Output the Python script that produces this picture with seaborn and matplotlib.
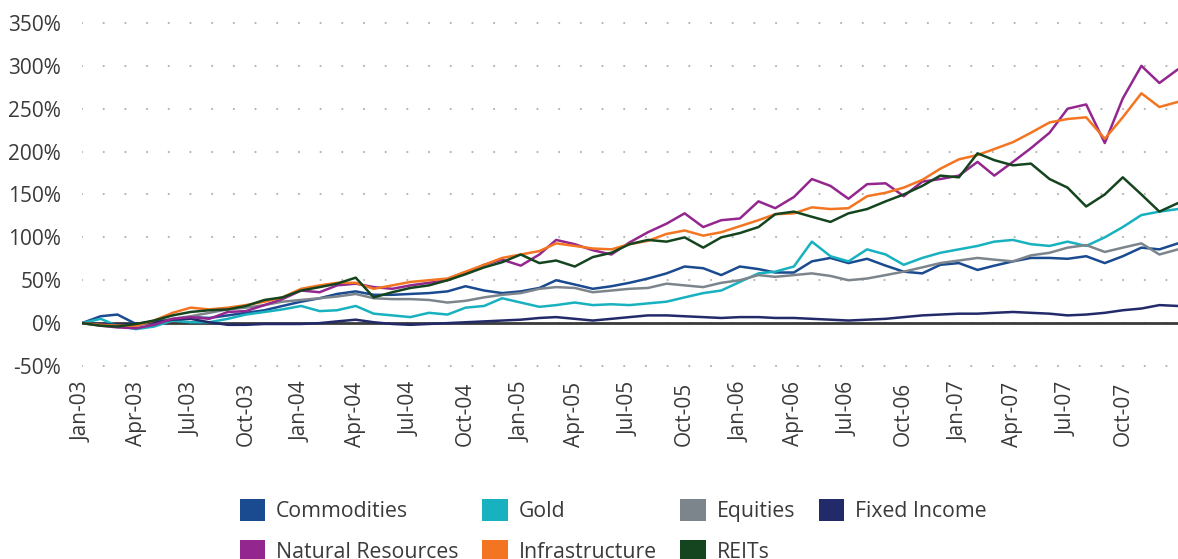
import pandas as pd
import matplotlib
matplotlib.use("Agg")
import matplotlib.pyplot as plt
import matplotlib.dates as mdates
from matplotlib.patches import Patch
from matplotlib.ticker import FuncFormatter
import seaborn as sns

# monthly readings, Jan-03 .. Jan-08 (cumulative return, %)
months = pd.date_range("2003-01-01", "2008-01-01", freq="MS")
tick_dates = pd.date_range("2003-01-01", "2007-10-01", freq="QS")

commodities = [0, 8, 10, -1, 2, 4, 7, 6, 9, 12, 15, 20, 25, 29, 34, 37, 33, 33, 34, 35,
               37, 43, 38, 35, 37, 41, 50, 45, 40, 43, 47, 52, 58, 66, 64, 56, 66, 63, 59, 59,
               72, 76, 70, 75, 67, 60, 58, 68, 70, 62, 67, 72, 76, 76, 75, 78, 70, 78, 88, 86, 93]
gold = [0, 5, -3, -7, -4, 3, 1, 1, 5, 10, 13, 16, 20, 14, 15, 20, 11, 9, 7, 12,
        10, 18, 20, 29, 24, 19, 21, 24, 21, 22, 21, 23, 25, 30, 35, 38, 48, 58, 60, 66,
        95, 78, 72, 86, 80, 68, 76, 82, 86, 90, 95, 97, 92, 90, 95, 90, 100, 112, 126, 130, 133]
equities = [0, -2, -4, -3, 1, 5, 8, 12, 16, 18, 21, 25, 27, 29, 31, 34, 29, 28, 28, 27,
            24, 26, 30, 33, 35, 40, 42, 41, 36, 38, 40, 41, 46, 44, 42, 47, 50, 56, 54, 56,
            58, 55, 50, 52, 56, 60, 65, 70, 73, 76, 74, 72, 79, 82, 88, 91, 83, 88, 93, 80, 86]
fixed_income = [0, -1, -2, -1, 1, 4, 5, 1, -2, -2, -1, -1, -1, 0, 2, 4, 1, -1, -2, -1,
                0, 1, 2, 3, 4, 6, 7, 5, 3, 5, 7, 9, 9, 8, 7, 6, 7, 7, 6, 6,
                5, 4, 3, 4, 5, 7, 9, 10, 11, 11, 12, 13, 12, 11, 9, 10, 12, 15, 17, 21, 20]
natural_resources = [0, -3, -5, -6, -2, 5, 7, 5, 13, 14, 21, 28, 38, 36, 44, 46, 42, 40, 44, 47,
                     50, 58, 68, 74, 67, 80, 97, 92, 85, 80, 94, 106, 116, 128, 112, 120, 122, 142, 134, 147,
                     168, 160, 145, 162, 163, 148, 165, 168, 172, 188, 172, 188, 204, 222, 250, 255, 210, 262, 300, 280, 296]
infrastructure = [0, -2, -3, -3, 3, 12, 18, 16, 18, 21, 25, 30, 40, 44, 47, 47, 40, 44, 48, 50,
                  52, 60, 68, 76, 80, 84, 93, 90, 87, 86, 92, 96, 104, 108, 102, 106, 113, 120, 127, 128,
                  135, 133, 134, 148, 152, 158, 167, 180, 191, 196, 203, 211, 222, 234, 238, 240, 215, 240, 268, 252, 258]
reits = [0, -3, -4, -1, 3, 9, 13, 15, 16, 20, 27, 30, 38, 42, 46, 53, 30, 36, 41, 44,
         50, 57, 65, 71, 80, 70, 73, 66, 77, 82, 92, 97, 95, 100, 88, 100, 105, 112, 127, 130,
         124, 118, 128, 133, 142, 150, 160, 172, 170, 198, 190, 184, 186, 168, 158, 136, 150, 170, 150, 130, 140]

names = ["Commodities", "Gold", "Equities", "Fixed Income",
         "Natural Resources", "Infrastructure", "REITs"]
colors = {
    "Commodities": "#1a4a8f",
    "Gold": "#17b1bf",
    "Equities": "#7d858c",
    "Fixed Income": "#222a69",
    "Natural Resources": "#93278f",
    "Infrastructure": "#f47521",
    "REITs": "#15451f",
}

df = pd.DataFrame({
    "date": months,
    "Commodities": commodities,
    "Gold": gold,
    "Equities": equities,
    "Fixed Income": fixed_income,
    "Natural Resources": natural_resources,
    "Infrastructure": infrastructure,
    "REITs": reits,
}).melt(id_vars="date", var_name="asset", value_name="ret")

sns.set_theme(style="white")
plt.rcParams["font.family"] = ["Open Sans", "DejaVu Sans"]
text_col = "#3a3a3a"

fig = plt.figure(figsize=(11.78, 5.59), dpi=100)
ax = fig.add_axes([0.0696, 0.3376, 0.9304, 0.629])

ax.axhline(0, color="#3a3a3a", lw=2, zorder=1)
sns.lineplot(data=df, x="date", y="ret", hue="asset", hue_order=names,
             palette=colors, linewidth=1.8, legend=False, ax=ax, zorder=2)

ax.set_ylim(-55, 355)
ax.set_xlim(pd.Timestamp("2003-01-01"), pd.Timestamp("2008-01-01"))
ax.set_yticks(range(-50, 351, 50))
ax.yaxis.set_major_formatter(FuncFormatter(lambda v, p: f"{v:.0f}%"))
ax.set_xticks(tick_dates)
ax.xaxis.set_major_formatter(mdates.DateFormatter("%b-%y"))
ax.yaxis.grid(True, color="#b5b5b5", linewidth=1.6,
              linestyle=(0, (0.01, 9.75)), dash_capstyle="round")
ax.xaxis.grid(False)
for s in ax.spines.values():
    s.set_visible(False)
ax.tick_params(axis="y", length=0, pad=15, labelsize=15, labelcolor=text_col)
ax.tick_params(axis="x", length=0, pad=8, labelsize=15, labelcolor=text_col, rotation=90)
ax.set_xlabel("")
ax.set_ylabel("")

order = ["Commodities", "Natural Resources", "Gold", "Infrastructure",
         "Equities", "REITs", "Fixed Income"]
handles = [Patch(facecolor=colors[n], edgecolor="none", label=n) for n in order]
fig.legend(handles=handles, ncol=4, loc="upper left", bbox_to_anchor=(0.2037, 0.107),
           frameon=False, fontsize=15.3, labelcolor=text_col, handlelength=1.2,
           handleheight=1.2, handletextpad=0.5, columnspacing=1.12, labelspacing=0.85,
           borderpad=0, borderaxespad=0)

fig.savefig("out.png", dpi=100)
